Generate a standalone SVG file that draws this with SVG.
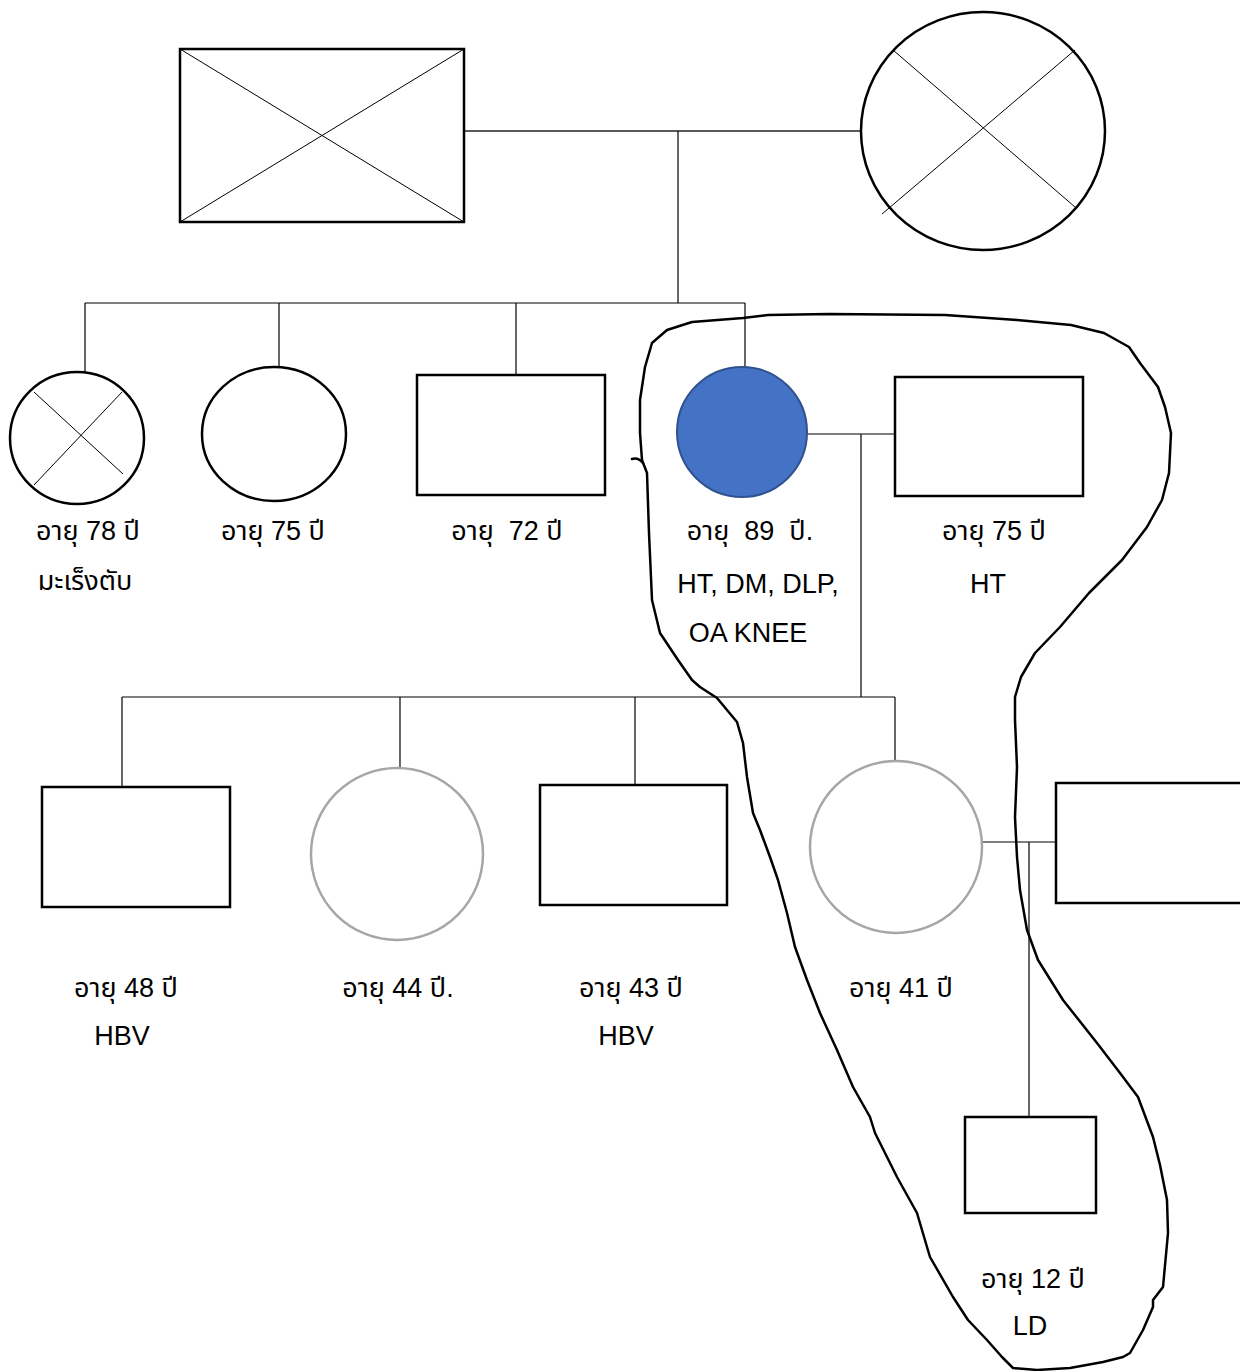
<svg xmlns="http://www.w3.org/2000/svg" width="1240" height="1371" viewBox="0 0 1240 1371">
<style>
.node{fill:#fff;stroke:#000;stroke-width:2.5}
.gray{fill:#fff;stroke:#a6a6a6;stroke-width:2.5}
.prob{fill:#4472c4;stroke:#2f528f;stroke-width:2}
.x{stroke:#000;stroke-width:1;fill:none}
.ln{stroke:#000;stroke-width:1.2;fill:none}
.ln2{stroke:#595959;stroke-width:2;fill:none}
text{font-family:"Liberation Sans","Noto Sans Thai","Noto Sans",sans-serif;font-size:27px;fill:#000;text-anchor:middle;white-space:pre}
.outline{fill:none;stroke:#000;stroke-width:2.5;stroke-linejoin:round;stroke-linecap:round}
</style>
<rect width="1240" height="1371" fill="#fff"/>

<g id="connectors">
<line class="ln2" x1="464" y1="131" x2="861" y2="131"/>
<line class="ln" x1="678" y1="131" x2="678" y2="303"/>
<line class="ln" x1="85" y1="303" x2="745" y2="303"/>
<line class="ln" x1="85" y1="303" x2="85" y2="372"/>
<line class="ln" x1="279" y1="303" x2="279" y2="367"/>
<line class="ln" x1="516" y1="303" x2="516" y2="375"/>
<line class="ln" x1="745" y1="303" x2="745" y2="367"/>
<line class="ln" x1="807" y1="434" x2="895" y2="434"/>
<line class="ln" x1="861" y1="434" x2="861" y2="697"/>
<line class="ln" x1="122" y1="697" x2="895" y2="697"/>
<line class="ln" x1="122" y1="697" x2="122" y2="787"/>
<line class="ln" x1="400" y1="697" x2="400" y2="768"/>
<line class="ln" x1="635" y1="697" x2="635" y2="785"/>
<line class="ln" x1="895" y1="697" x2="895" y2="761"/>
<line class="ln" x1="982" y1="842" x2="1056" y2="842"/>
<line class="ln" x1="1029" y1="842" x2="1029" y2="1117"/>
</g>

<g id="grandfather">
<rect class="node" x="180" y="49" width="284" height="173"/>
<line class="x" x1="180" y1="49" x2="464" y2="222"/>
<line class="x" x1="464" y1="49" x2="180" y2="222"/>
</g>
<g id="grandmother">
<ellipse class="node" cx="983" cy="131" rx="122" ry="119"/>
<line class="x" x1="893" y1="50" x2="1075" y2="207"/>
<line class="x" x1="1075" y1="50" x2="882" y2="214"/>
</g>

<g id="sib1">
<ellipse class="node" cx="77" cy="438" rx="67" ry="66"/>
<line class="x" x1="34" y1="392" x2="123" y2="474"/>
<line class="x" x1="122" y1="392" x2="34" y2="485"/>
<text x="88" y="540">อายุ 78 ปี</text>
<text x="85" y="590">มะเร็งตับ</text>
</g>
<g id="sib2">
<ellipse class="node" cx="274" cy="434" rx="72" ry="67"/>
<text x="273" y="540">อายุ 75 ปี</text>
</g>
<g id="sib3">
<rect class="node" x="417" y="375" width="188" height="120"/>
<text x="507" y="540">อายุ  72 ปี</text>
</g>
<g id="proband">
<circle class="prob" cx="742" cy="432" r="65"/>
<text x="750" y="540">อายุ  89  ปี.</text>
<text x="758" y="593">HT, DM, DLP,</text>
<text x="748" y="642">OA KNEE</text>
</g>
<g id="husband">
<rect class="node" x="895" y="377" width="188" height="119"/>
<text x="994" y="540">อายุ 75 ปี</text>
<text x="988" y="593">HT</text>
</g>

<g id="child1">
<rect class="node" x="42" y="787" width="188" height="120"/>
<text x="126" y="997">อายุ 48 ปี</text>
<text x="122" y="1045">HBV</text>
</g>
<g id="child2">
<circle class="gray" cx="397" cy="854" r="86"/>
<text x="398" y="997">อายุ 44 ปี.</text>
</g>
<g id="child3">
<rect class="node" x="540" y="785" width="187" height="120"/>
<text x="631" y="997">อายุ 43 ปี</text>
<text x="626" y="1045">HBV</text>
</g>
<g id="child4">
<circle class="gray" cx="896" cy="847" r="86"/>
<text x="901" y="997">อายุ 41 ปี</text>
</g>
<g id="spouse4">
<rect class="node" x="1056" y="783" width="192" height="120"/>
</g>
<g id="grandchild">
<rect class="node" x="965" y="1117" width="131" height="96"/>
<text x="1033" y="1288">อายุ 12 ปี</text>
<text x="1030" y="1335">LD</text>
</g>

<g id="household-outline">
<path class="outline" d="M692,322 L743,318 L768,315 L829,314 L945,315 L1017,320 L1071,325 L1104,333 L1129,347 L1140,363 L1158,387 L1165,407 L1171,433 L1169,473 L1162,500 L1147,527 L1122,560 L1089,593 L1060,627 L1035,653 L1021,677 L1015,697 L1015,720 L1017,767 L1015,817 L1017,857 L1020,890 L1027,930 L1038,960 L1063,1000 L1097,1043 L1120,1073 L1138,1097 L1153,1137 L1160,1165 L1167,1200 L1168,1233 L1163,1287 L1153,1300 L1153,1307 L1143,1330 L1130,1353 L1123,1357 L1103,1362 L1070,1368 L1037,1370 L1013,1368 L1002,1357 L987,1340 L968,1320 L953,1297 L930,1257 L927,1247 L917,1213 L897,1177 L875,1133 L870,1117 L853,1087 L837,1050 L820,1013 L807,980 L795,947 L787,913 L778,880 L770,857 L760,830 L753,813 L747,777 L743,743 L737,722 L717,698 L700,687 L692,680 L678,660 L660,633 L652,600 L649,533 L647,473 L642,460 L640,433 L640,400 L645,367 L652,343 L667,330 Z"/>
<path class="outline" d="M632,459 Q638,457 643,463"/>
</g>
</svg>
